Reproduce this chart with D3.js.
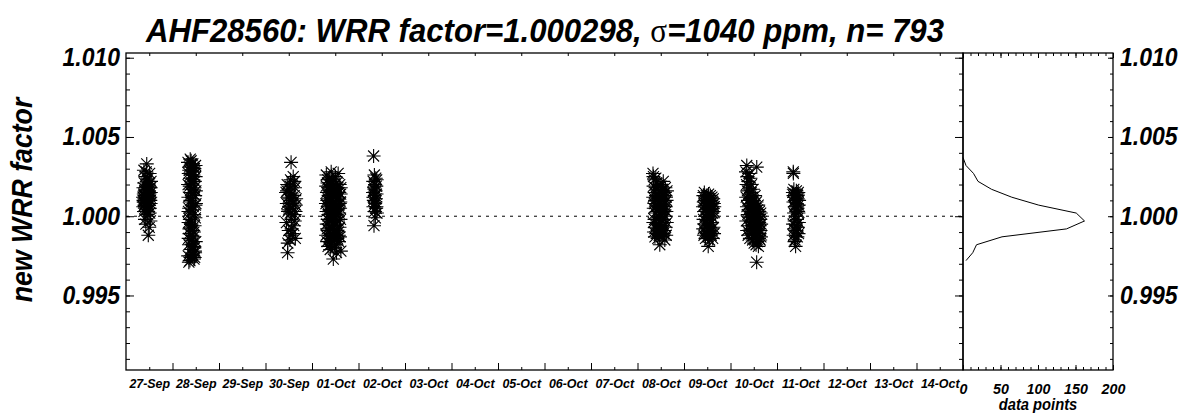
<!DOCTYPE html>
<html>
<head>
<meta charset="utf-8">
<script src="https://cdnjs.cloudflare.com/ajax/libs/d3/7.8.5/d3.min.js"></script>
<style>
body { margin: 0; background: #fff; }
svg text { font-family: "Liberation Sans", Arial, Helvetica, sans-serif; font-weight: bold; font-style: italic; fill: #000; }
</style>
</head>
<body>
<script>
// measurements per day: [hour of day (UTC), deviation of WRR factor from 1 in ppm]
var sep27 = [[8.8,1200],[8.9,600],[9.0,1800],[9.1,900],[9.2,1400],[9.3,300],[9.4,2100],[9.5,1100],[9.6,700],[9.7,1600],
	[9.8,-200],[9.9,1300],[10.0,2500],[10.1,800],[10.2,1000],[10.3,1900],[10.4,400],[10.5,1500],[10.6,1200],[10.7,3300],
	[10.8,600],[10.9,1700],[11.0,900],[11.1,2300],[11.2,100],[11.3,1400],[11.4,1100],[11.5,-1200],[11.6,2000],[11.7,700],
	[11.8,1300],[11.9,1600],[12.0,-700],[12.1,1000],[12.2,2700],[12.3,500],[12.4,1800],[12.5,1200],[12.6,-300],[12.7,800],
	[12.8,1500],[12.9,2200],[9.05,1000],[9.55,1300],[10.05,1700],[10.55,900],[11.05,1500],[11.55,1100],[12.05,1400],[12.55,1000],
	[9.25,2900],[10.25,-500],[11.25,2400],[12.25,200],[9.75,500],[10.75,1200],[11.75,1900],[12.75,1800],[10.45,2800],[11.45,300]];
var sep28 = [[8.0,3400],[8.1,-2500],[8.2,1200],[8.3,-400],[8.4,2700],[8.5,-1800],[8.6,500],[8.7,3100],[8.8,-1100],[8.9,1900],
	[9.0,-2800],[9.1,200],[9.2,2400],[9.3,-700],[9.4,1500],[9.5,-2100],[9.6,3500],[9.7,900],[9.8,-1500],[9.9,2100],
	[10.0,-300],[10.1,2900],[10.2,-2400],[10.3,1100],[10.4,-900],[10.5,3300],[10.6,-1900],[10.7,600],[10.8,2600],[10.9,-1300],
	[11.0,1700],[11.1,-2700],[11.2,100],[11.3,3000],[11.4,-600],[11.5,2200],[11.6,-2200],[11.7,1300],[11.8,-100],[11.9,3200],
	[12.0,-1600],[12.1,800],[8.05,2000],[8.35,-1400],[8.65,2900],[8.95,-200],[9.25,1000],[9.55,-2600],[9.85,3300],[10.15,400],
	[10.45,-1700],[10.75,2300],[11.05,-1000],[11.35,1800],[11.65,-2300],[11.95,2500],[8.45,-2900],[9.15,3600],[9.75,-500],[10.55,1400],
	[11.25,-2000],[11.85,700],[8.25,300],[9.35,2600],[10.25,-1200],[10.85,3100],[11.45,-2600],[12.05,1600],[8.75,-800],[9.65,1700],
	[10.35,-2500],[11.15,2800]];
var sep30 = [[10.6,1500],[10.8,-400],[11.0,800],[11.2,2000],[11.4,-2300],[11.6,300],[11.8,1200],[12.0,-900],[12.2,600],[12.4,1700],
	[12.6,-1500],[12.8,200],[13.0,1000],[13.2,3400],[13.4,-200],[13.6,1400],[13.8,500],[14.0,-1100],[14.2,2100],[14.4,900],
	[14.6,-600],[14.8,1300],[15.0,100],[15.2,1800],[15.4,-1400],[15.6,700],[15.8,1100],[11.1,1600],[11.9,400],[12.7,1900],
	[13.5,-800],[14.3,2500],[15.1,-300],[12.3,1100],[13.9,800],[14.9,2200],[11.5,-1700],[13.1,-1200],[15.5,300],[12.9,2300]];
var oct01 = [[7.2,800],[7.3,-1200],[7.4,2600],[7.5,300],[7.6,-500],[7.7,1500],[7.8,-1600],[7.9,1000],[8.0,2100],[8.1,-200],
	[8.2,600],[8.3,-1900],[8.4,1800],[8.5,100],[8.6,-900],[8.7,1300],[8.8,2400],[8.9,-1400],[9.0,400],[9.1,1600],
	[9.2,-700],[9.3,900],[9.4,-2100],[9.5,2000],[9.6,200],[9.7,-1100],[9.8,1200],[9.9,2800],[10.0,-300],[10.1,700],
	[10.2,-1700],[10.3,1700],[10.4,0],[10.5,-800],[10.6,1100],[10.7,2200],[10.8,-1300],[10.9,500],[11.0,-2700],[11.1,1400],
	[11.2,-400],[11.3,900],[11.4,1900],[11.5,-1500],[11.6,300],[11.7,-600],[11.8,1600],[11.9,-2000],[12.0,800],[12.1,2500],
	[12.2,-100],[12.3,-1200],[12.4,1300],[12.5,600],[12.6,-1800],[12.7,2100],[12.8,100],[12.9,-900],[13.0,1000],[13.1,-1400],
	[13.2,1800],[13.3,400],[13.4,-300],[13.5,2700],[13.6,-1000],[13.7,700],[13.8,1500],[13.9,-1600],[14.0,200],[14.1,1200],
	[14.2,-700],[14.3,2000],[14.4,-1300],[14.5,500],[14.6,900],[14.7,-200],[14.8,1400],[14.9,-2200],[7.35,1900],[7.85,-800],
	[8.35,1100],[8.85,-300],[9.35,1400],[9.85,-1500],[10.35,600],[10.85,1600],[11.35,-1000],[11.85,300],[12.35,1700],[12.85,-500],
	[13.35,1100],[13.85,-1200],[14.35,800],[14.85,1800],[8.15,2300],[9.65,-1800],[11.15,2300],[12.65,-2300]];
var oct02 = [[7.5,1500],[7.6,2200],[7.7,600],[7.8,3800],[7.9,1000],[8.0,-600],[8.1,1800],[8.2,2600],[8.3,300],[8.4,1300],
	[8.5,2000],[8.6,800],[8.7,-100],[8.8,1600],[8.9,2400],[9.0,1100],[9.1,500],[9.2,1900],[9.3,1400],[9.4,2300],
	[9.5,200],[7.65,1200],[8.25,1700],[8.75,900],[9.25,600]];
var oct08 = [[8.0,2700],[8.1,1200],[8.2,-400],[8.3,1900],[8.4,500],[8.5,-1000],[8.6,2300],[8.7,800],[8.8,-200],[8.9,1500],
	[9.0,-1300],[9.1,1000],[9.2,200],[9.3,1800],[9.4,-700],[9.5,600],[9.6,1300],[9.7,-1100],[9.8,2100],[9.9,300],
	[10.0,-500],[10.1,1100],[10.2,1700],[10.3,-900],[10.4,700],[10.5,-1400],[10.6,1400],[10.7,0],[10.8,900],[10.9,-600],
	[11.0,2000],[11.1,400],[11.2,-1200],[11.3,1200],[11.4,-100],[11.5,-1800],[11.6,800],[11.7,1600],[11.8,-400],[11.9,500],
	[12.0,-1000],[12.1,1900],[12.2,100],[12.3,1000],[12.4,-800],[12.5,1400],[12.6,-300],[12.7,600],[12.8,-1300],[12.9,1700],
	[13.0,200],[13.1,-600],[13.2,1100],[13.3,2200],[13.4,-1100],[13.5,700],[13.6,-200],[13.7,1300],[13.8,-900],[13.9,400],
	[14.0,1500],[14.1,-1500],[14.2,900],[14.3,0],[14.4,1800],[14.5,-700],[14.6,600],[14.7,1200],[14.8,-1200],[14.9,300],
	[15.0,1000],[15.1,-400],[15.2,1600],[8.25,2500],[9.45,2400]];
var oct09 = [[9.8,600],[9.9,-800],[10.0,1300],[10.1,-200],[10.2,900],[10.3,-1200],[10.4,300],[10.5,1500],[10.6,-500],[10.7,700],
	[10.8,-1000],[10.9,1100],[11.0,0],[11.1,-1400],[11.2,1000],[11.3,400],[11.4,-700],[11.5,1300],[11.6,-300],[11.7,800],
	[11.8,-1100],[11.9,200],[12.0,1200],[12.1,-600],[12.2,500],[12.3,-1300],[12.4,900],[12.5,-1900],[12.6,100],[12.7,1400],
	[12.8,-900],[12.9,600],[13.0,-200],[13.1,1100],[13.2,-1500],[13.3,300],[13.4,800],[13.5,-500],[13.6,1300],[13.7,-1000],
	[13.8,0],[13.9,700],[14.0,-1200],[14.1,1000],[14.2,-400],[14.3,400],[14.4,1200],[14.5,-800],[14.6,200],[14.7,900],
	[14.8,-1400],[14.9,500],[15.0,-100],[15.1,1100],[15.2,-700],[15.3,300],[15.4,800],[15.5,-1100],[15.6,600]];
var oct10 = [[8.0,2800],[8.1,1200],[8.2,-300],[8.3,2000],[8.4,3200],[8.5,600],[8.6,-900],[8.7,1600],[8.8,2500],[8.9,100],
	[9.0,1000],[9.1,-1200],[9.2,2200],[9.3,400],[9.4,1400],[9.5,-600],[9.6,2700],[9.7,800],[9.8,-100],[9.9,1800],
	[10.0,-1400],[10.1,1100],[10.2,300],[10.3,2400],[10.4,-800],[10.5,700],[10.6,1500],[10.7,-300],[10.8,2000],[10.9,-1100],
	[11.0,500],[11.1,1200],[11.2,-600],[11.3,900],[11.4,-1500],[11.5,200],[11.6,1700],[11.7,-200],[11.8,600],[11.9,-1200],
	[12.0,1000],[12.1,-400],[12.2,-1700],[12.3,300],[12.4,800],[12.5,-900],[12.6,-200],[12.7,1300],[12.8,-1400],[12.9,0],
	[13.0,-700],[13.1,500],[13.2,-1800],[13.3,-100],[13.4,900],[13.5,-2900],[13.55,3100],[13.6,-1000],[13.7,200],[13.8,-500],
	[13.9,-1600],[14.0,400],[14.1,-1200],[14.2,-300],[14.3,700],[14.4,-1900],[14.5,-800],[14.6,100],[14.7,-1400],[14.8,-400],
	[14.9,300],[15.0,-1100],[15.1,-600],[15.2,0],[15.3,-1500],[15.4,-200],[15.5,-900],[15.6,200],[15.7,-1300],[15.8,-500]];
var oct11 = [[8.2,1500],[8.3,-500],[8.4,2800],[8.45,2700],[8.5,900],[8.6,-1200],[8.7,1700],[8.8,200],[8.9,-800],[9.0,1200],
	[9.1,-300],[9.2,600],[9.3,-1500],[9.4,1400],[9.5,0],[9.6,-1900],[9.7,1000],[9.8,-600],[9.9,400],[10.0,1600],
	[10.1,-1000],[10.2,800],[10.3,-200],[10.4,1300],[10.5,-1300],[10.6,500],[10.7,1100],[10.8,-700],[10.9,300],[11.0,1500],
	[11.1,-1100],[11.2,700],[11.3,-400],[11.4,1000],[8.55,1300],[9.05,-1600],[9.55,600],[10.05,-900],[10.55,1400],[11.05,200]];

var dayNames = ["2016-09-27", "2016-09-28", "2016-09-30", "2016-10-01", "2016-10-02", "2016-10-08", "2016-10-09", "2016-10-10", "2016-10-11"];
var dayData = [sep27, sep28, sep30, oct01, oct02, oct08, oct09, oct10, oct11];

// histogram of all factors (right panel)
var histFactor = [1.0037, 1.0032, 1.0027, 1.0022, 1.0017, 1.0012, 1.0007, 1.0002, 0.9997, 0.9992, 0.9987, 0.9982, 0.9977, 0.9972];
var histCount = [0, 4, 14, 20, 38, 65, 101, 151, 162, 138, 52, 18, 13, 4];

var yTicks = [0.995, 1.000, 1.005, 1.010];
var histTicks = [0, 50, 100, 150, 200];
var dateRange = ["2016-09-27", "2016-10-15"];

var points = [];
dayData.forEach(function (list, i) {
	var day = new Date(dayNames[i] + "T00:00:00Z");
	list.forEach(function (p) {
		points.push([new Date(day.getTime() + p[0] * 3600000), 1 + p[1] / 1e6]);
	});
});

var svg = d3.select("body").append("svg").attr("width", 1195).attr("height", 419);

var plotL = 126, plotR = 963, plotT = 53, plotB = 370, histR = 1113;

var x = d3.scaleUtc().domain(dateRange.map(function (d) {return new Date(d + "T00:00:00Z");})).range([plotL, plotR]);
var y = d3.scaleLinear().domain([0.990298, 1.010298]).range([plotB, plotT]);
var hx = d3.scaleLinear().domain([0, 200]).range([plotR, histR]);

var midnights = d3.utcDay.range(x.domain()[0], x.domain()[1]).slice(1);
var noons = d3.utcDay.range(x.domain()[0], x.domain()[1]).map(function (d) {return d3.utcHour.offset(d, 12);});

function strip(g) {
	g.select(".domain").remove();
	g.selectAll("line").attr("stroke", "#000");
}

// the original font is a narrow helvetica, squeeze the text a bit
function condense(sel, size) {
	sel.style("font-size", size + "px").style("font-family", null).each(function () {
		var w = this.getComputedTextLength();
		d3.select(this).attr("textLength", w * 0.92).attr("lengthAdjust", "spacingAndGlyphs");
	});
}

// title
var title = svg.append("text").attr("x", 545).attr("y", 42).attr("text-anchor", "middle")
	.attr("textLength", 798).attr("lengthAdjust", "spacingAndGlyphs").style("font-size", "34px");
title.append("tspan").text("AHF28560: WRR factor=1.000298, ");
title.append("tspan").text("σ").style("font-family", "'Liberation Serif', serif").style("font-style", "normal").style("font-weight", "normal");
title.append("tspan").text("=1040 ppm, n= 793");

// y label
svg.append("text").attr("transform", "translate(32,200) rotate(-90)").attr("text-anchor", "middle")
	.text("new WRR factor").call(condense, 29);

// reference line at 1.000
svg.append("line").attr("x1", plotL).attr("x2", plotR).attr("y1", y(1)).attr("y2", y(1))
	.attr("stroke", "#000").attr("stroke-dasharray", "3,5");

// asterisks
var star = "M-7,0H7M0,-7V7M-5.5,-5.5L5.5,5.5M-5.5,5.5L5.5,-5.5";
svg.append("g").selectAll("path").data(points).enter().append("path")
	.attr("d", star)
	.attr("transform", function (d) {return "translate(" + x(d[0]) + "," + y(d[1]) + ")";})
	.attr("fill", "none").attr("stroke", "#000").attr("stroke-width", 1.1);

// main x axis
svg.append("g").attr("transform", "translate(0," + plotB + ")")
	.call(d3.axisBottom(x).tickValues(noons).tickFormat(d3.utcFormat("%d-%b")).tickSizeInner(-3).tickSizeOuter(0).tickPadding(8))
	.call(strip).selectAll("text").call(condense, 13.5);
svg.append("g").attr("transform", "translate(0," + plotB + ")")
	.call(d3.axisBottom(x).tickValues(midnights).tickFormat("").tickSize(-7)).call(strip);
svg.append("g").attr("transform", "translate(0," + plotT + ")")
	.call(d3.axisTop(x).tickValues(noons).tickFormat("").tickSize(-3)).call(strip);

// main y axes
svg.append("g").attr("transform", "translate(" + plotL + ",0)")
	.call(d3.axisLeft(y).tickValues(yTicks).tickFormat(d3.format(".3f")).tickSize(-8).tickPadding(6))
	.call(strip).selectAll("text").call(condense, 25);
svg.append("g").attr("transform", "translate(" + plotL + ",0)")
	.call(d3.axisLeft(y).tickValues(y.ticks(20)).tickFormat("").tickSize(-4)).call(strip);
svg.append("g").attr("transform", "translate(" + plotR + ",0)")
	.call(d3.axisRight(y).tickValues(yTicks).tickFormat("").tickSize(-8)).call(strip);
svg.append("g").attr("transform", "translate(" + plotR + ",0)")
	.call(d3.axisRight(y).tickValues(y.ticks(20)).tickFormat("").tickSize(-4)).call(strip);

// histogram panel axes
svg.append("g").attr("transform", "translate(0," + plotB + ")")
	.call(d3.axisBottom(hx).tickValues(histTicks).tickSize(-5).tickPadding(13))
	.call(strip).selectAll("text").call(condense, 15.5);
svg.append("g").attr("transform", "translate(0," + plotB + ")")
	.call(d3.axisBottom(hx).tickValues(hx.ticks(20)).tickFormat("").tickSize(-3)).call(strip);
svg.append("g").attr("transform", "translate(0," + plotT + ")")
	.call(d3.axisTop(hx).tickValues(histTicks).tickFormat("").tickSize(-5)).call(strip);
svg.append("g").attr("transform", "translate(0," + plotT + ")")
	.call(d3.axisTop(hx).tickValues(hx.ticks(20)).tickFormat("").tickSize(-3)).call(strip);
svg.append("g").attr("transform", "translate(" + histR + ",0)")
	.call(d3.axisRight(y).tickValues(yTicks).tickFormat(d3.format(".3f")).tickSize(-5).tickPadding(7))
	.call(strip).selectAll("text").call(condense, 25);
svg.append("g").attr("transform", "translate(" + histR + ",0)")
	.call(d3.axisRight(y).tickValues(y.ticks(20)).tickFormat("").tickSize(-3)).call(strip);

svg.append("text").attr("x", 1038).attr("y", 410).attr("text-anchor", "middle")
	.text("data points").call(condense, 16);

// histogram curve
var histLine = d3.line().x(function (d, i) {return hx(histCount[i]);}).y(function (d) {return y(d);});
svg.append("path").attr("d", histLine(histFactor)).attr("fill", "none").attr("stroke", "#000").attr("stroke-width", 1);

// frames
svg.append("rect").attr("x", plotL).attr("y", plotT).attr("width", plotR - plotL).attr("height", plotB - plotT)
	.attr("fill", "none").attr("stroke", "#000").attr("stroke-width", 1.3);
svg.append("rect").attr("x", plotR).attr("y", plotT).attr("width", histR - plotR).attr("height", plotB - plotT)
	.attr("fill", "none").attr("stroke", "#000").attr("stroke-width", 1.3);
</script>
</body>
</html>
